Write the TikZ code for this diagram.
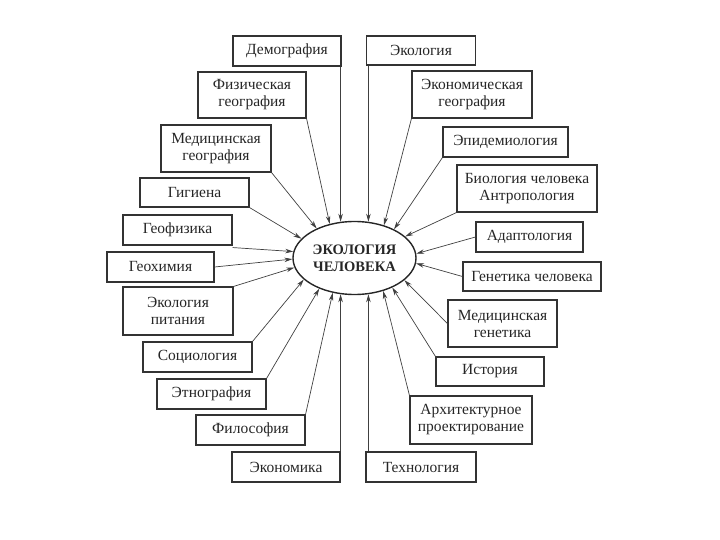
\documentclass[tikz,border=0pt]{standalone}
\usepackage{fontspec}
\setmainfont{Liberation Serif}
\usetikzlibrary{shapes.geometric,arrows.meta}
\begin{document}
\begin{tikzpicture}[x=1pt,y=-1pt,
  box/.style={draw=black!80, line width=1.1pt, inner sep=1pt, align=center,
    font=\fontsize{15.5}{17}\selectfont, text=black!85},
  arr/.style={draw=black!75, line width=0.7pt, -{Stealth[length=8pt,width=4.5pt]}}]
\useasboundingbox (0,0) rectangle (720,540);
\node[draw=black!85, line width=1.4pt, ellipse, minimum width=123pt, minimum height=73pt, inner sep=0pt,
  align=center, font=\fontsize{14.5}{17}\selectfont\bfseries, text=black!85] (e) at (354.5,258) {ЭКОЛОГИЯ\\ЧЕЛОВЕКА};
% left column
\node[box, minimum width=108pt, minimum height=30pt] (demog) at (287,51) {Демография};
\node[box, minimum width=108pt, minimum height=46pt] (fiz) at (252,95) {Физическая\\география};
\node[box, minimum width=110pt, minimum height=47pt] (medgeo) at (216,148.5) {Медицинская\\география};
\node[box, minimum width=109pt, minimum height=29pt] (gig) at (194.5,192.5) {Гигиена};
\node[box, minimum width=109pt, minimum height=30pt] (geofiz) at (177.5,230) {Геофизика};
\node[box, minimum width=107pt, minimum height=30pt] (geohim) at (160.5,267) {Геохимия};
\node[box, minimum width=110pt, minimum height=48pt] (ecpit) at (178,311) {Экология\\питания};
\node[box, minimum width=109pt, minimum height=30pt] (soc) at (197.5,357) {Социология};
\node[box, minimum width=109pt, minimum height=30pt] (etno) at (211.5,394) {Этнография};
\node[box, minimum width=109pt, minimum height=30pt] (filos) at (250.5,430) {Философия};
\node[box, minimum width=108pt, minimum height=30pt] (econ) at (286,467) {Экономика};
% right column
\node[box, minimum width=109pt, minimum height=29pt] (ecol) at (421,50.5) {Экология};
\node[box, minimum width=120pt, minimum height=47pt] (econgeo) at (472,94.5) {Экономическая\\география};
\node[box, minimum width=125pt, minimum height=30pt] (epid) at (505.5,142) {Эпидемиология};
\node[box, minimum width=140pt, minimum height=47pt] (bio) at (527,188.5) {Биология человека\\Антропология};
\node[box, minimum width=107pt, minimum height=30pt] (adapt) at (529.5,237) {Адаптология};
\node[box, minimum width=138pt, minimum height=29pt] (genet) at (532,276.5) {Генетика человека};
\node[box, minimum width=109pt, minimum height=47pt] (medgen) at (502.5,323.5) {Медицинская\\генетика};
\node[box, minimum width=108pt, minimum height=29pt] (hist) at (490,371.5) {История};
\node[box, minimum width=122pt, minimum height=48pt] (arch) at (471,420) {Архитектурное\\проектирование};
\node[box, minimum width=110pt, minimum height=30pt] (tech) at (421,467) {Технология};
% connectors
\draw[arr] (demog.south -| e.111) -- (e.111);
\draw[arr] (fiz.south east) -- (e.126);
\draw[arr] (medgeo.south east) -- (e.142);
\draw[arr] (gig.south east) -- (e.160);
\draw[arr] ([yshift=-2pt]geofiz.south east) -- (e.174);
\draw[arr] (geohim.east) -- (e.181);
\draw[arr] (ecpit.north east) -- (e.189);
\draw[arr] (soc.north east) -- (e.203);
\draw[arr] (etno.north east) -- (e.221);
\draw[arr] (filos.north east) -- (e.238);
\draw[arr] (econ.north -| e.249) -- (e.249);
\draw[arr] (ecol.south -| e.69) -- (e.69);
\draw[arr] (econgeo.south west) -- (e.48);
\draw[arr] (epid.south west) -- (e.36);
\draw[arr] (bio.south west) -- (e.23);
\draw[arr] (adapt.west) -- (e.4);
\draw[arr] (genet.west) -- (e.-5);
\draw[arr] (medgen.west) -- (e.336);
\draw[arr] (hist.north west) -- (e.322);
\draw[arr] (arch.north west) -- (e.311);
\draw[arr] (tech.north -| e.291) -- (e.291);
\end{tikzpicture}
\end{document}
